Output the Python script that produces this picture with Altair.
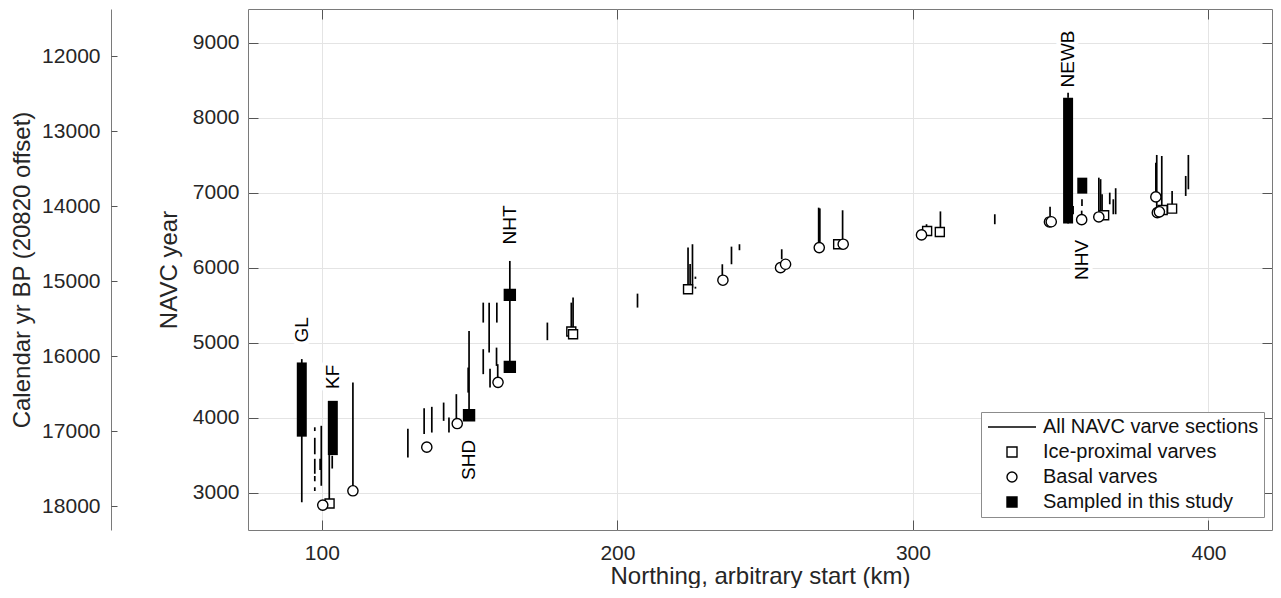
import altair as alt
import pandas as pd

# ---------------- data ----------------
# All NAVC varve sections: northing (km), start / end NAVC year
seg_x = [93.2, 97.6, 97.6, 97.6, 97.6, 97.6, 99.8, 99.4, 102.5, 103.5,
         110.5, 129.1, 134.6, 137.2, 141.2, 143.0, 145.5, 149.8, 149.5, 154.6,
         154.6, 156.6, 156.9, 159.2, 159.1, 159.5, 163.6, 176.3, 184.4, 185.0,
         206.8, 223.9, 225.4, 224.6, 226.4, 226.4, 235.5, 238.6, 241.3, 255.6,
         268.1, 268.5, 276.2, 304.6, 309.3, 327.7, 346.4, 352.5, 352.5, 354.2,
         357.2, 357.1, 362.9, 363.5, 364.0, 366.6, 367.8, 368.6, 382.2, 382.5,
         384.2, 387.7, 392.3, 393.2]
seg_y0 = [2870, 3820, 3510, 3250, 3150, 3020, 3090, 3300, 2860, 3320,
          3023, 3467, 3779, 3800, 3956, 3800, 3956, 4030, 4333, 5267,
          4579, 4867, 4400, 5267, 4689, 4516, 4676, 5032, 5147, 5112,
          5467, 5712, 5733, 5760, 5850, 5720, 5890, 6045, 6232, 6112,
          6267, 6300, 6356, 6499, 6540, 6579, 6645, 6587, 8267, 6712,
          6823, 6680, 6716, 6716, 6716, 6845, 6712, 6712, 6980, 6780,
          6790, 6823, 6956, 7045]
seg_y1 = [4780, 3870, 3730, 3450, 3220, 3070, 3890, 3450, 3500, 3490,
          4467, 3850, 4125, 4143, 4200, 4000, 4312, 5156, 4667, 5533,
          4912, 5533, 4650, 5533, 4933, 4712, 6089, 5267, 5533, 5600,
          5653, 6267, 6312, 6050, 5880, 5745, 6045, 6280, 6312, 6245,
          6800, 6790, 6765, 6579, 6750, 6712, 6813, 8267, 8333, 6823,
          6912, 6760, 7200, 7180, 6979, 7000, 6912, 7059, 7400, 7503,
          7489, 7023, 7223, 7503]

# Ice-proximal varves (hollow squares)
prox_x = [102.6, 184.4, 185.0, 223.9, 274.7, 304.8, 309.1, 364.7, 384.5, 387.7]
prox_y = [2853, 5147, 5112, 5712, 6312, 6489, 6476, 6699, 6769, 6787]

# Basal varves (hollow circles)
basal_x = [100.3, 110.5, 135.5, 145.8, 159.6, 235.7, 255.2, 256.9, 268.3, 276.4,
           302.9, 346.2, 346.8, 357.1, 362.9, 382.2, 382.7, 383.4]
basal_y = [2832, 3023, 3605, 3920, 4470, 5832, 6000, 6045, 6267, 6312,
           6436, 6609, 6612, 6640, 6676, 6943, 6733, 6745]

# Sampled in this study: single samples and continuous sampled intervals
samp_x = [149.8, 163.6, 163.6]
samp_y = [4030, 5636, 4676]
bar_x = [93.2, 103.7, 352.5, 357.3]
bar_y0 = [3745, 3499, 6587, 6987]
bar_y1 = [4735, 4223, 8267, 7200]

# Site labels
label_text = ["GL", "KF", "SHD", "NHT", "NEWB", "NHV"]
label_x = [93.2, 103.7, 149.8, 163.7, 352.5, 357.2]
label_y = [5169, 4543, 3436, 6569, 8783, 6103]

categories = ["All NAVC varve sections", "Ice-proximal varves",
              "Basal varves", "Sampled in this study"]

x_ticks = [100, 200, 300, 400]
y_ticks = [3000, 4000, 5000, 6000, 7000, 8000, 9000]
cal_ticks = [12000, 13000, 14000, 15000, 16000, 17000, 18000]
CAL_OFFSET = 20820

X_DOM = [75, 421.5]
Y_DOM = [2500, 9450]
CAL_DOM = [CAL_OFFSET - Y_DOM[1], CAL_OFFSET - Y_DOM[0]]

# ---------------- tables ----------------
seg_df = pd.DataFrame({"x": seg_x, "y": seg_y0, "y2": seg_y1})
bar_df = pd.DataFrame({"x": bar_x, "y": bar_y0, "y2": bar_y1})
prox_df = pd.DataFrame({"x": prox_x, "y": prox_y, "cat": categories[1]})
basal_df = pd.DataFrame({"x": basal_x, "y": basal_y, "cat": categories[2]})
samp_df = pd.DataFrame({"x": samp_x, "y": samp_y, "cat": categories[3]})
lab_df = pd.DataFrame({"x": label_x, "y": label_y, "label": label_text})
# one mid-range point used only to instantiate the extra axis scales
anchor_df = pd.DataFrame({"x": [x_ticks[1]], "y": [y_ticks[3]], "c": [cal_ticks[3]]})

FONT = "Liberation Sans"
TXT = "#262626"
BOX = "#7a7a7a"
TICK = "#555555"
W, H = 1024, 521

xs = alt.Scale(domain=X_DOM, nice=False, zero=False)
ys = alt.Scale(domain=Y_DOM, nice=False, zero=False)
cs = alt.Scale(domain=CAL_DOM, nice=False, zero=False, reverse=True)

x_axis = alt.Axis(title="Northing, arbitrary start (km)", values=x_ticks, format="d",
                  ticks=False, domain=False, grid=True, gridColor="#e4e4e4",
                  labelFontSize=21, titleFontSize=24, labelPadding=12, titlePadding=1,
                  labelColor=TXT, titleColor=TXT, titleFontWeight="normal",
                  labelFont=FONT, titleFont=FONT)
y_axis = alt.Axis(title="NAVC year", values=y_ticks, format="d",
                  ticks=False, domain=False, grid=True, gridColor="#e4e4e4",
                  labelFontSize=21, titleFontSize=24, labelPadding=9, titlePadding=11,
                  labelColor=TXT, titleColor=TXT, titleFontWeight="normal",
                  labelFont=FONT, titleFont=FONT)


def XE():
    return alt.X("x:Q", scale=xs, axis=x_axis)


def YE():
    return alt.Y("y:Q", scale=ys, axis=y_axis)


seg = alt.Chart(seg_df).mark_rule(color="black", strokeWidth=1.7).encode(
    x=XE(), y=YE(), y2="y2:Q")
bars = alt.Chart(bar_df).mark_rule(color="black", strokeWidth=10, strokeCap="butt").encode(
    x=XE(), y=YE(), y2="y2:Q")

legend = alt.Legend(title=None, orient="none", legendX=733, legendY=403,
                    direction="vertical", labelFontSize=20, labelFont=FONT,
                    labelColor="#111111", symbolStrokeWidth=1.4, symbolSize=100,
                    symbolOffset=16, labelOffset=21, padding=5, rowPadding=5,
                    strokeColor="#8c8c8c", fillColor="white", labelLimit=500)

line_symbol = "M-4.8,0L4.8,0"
shape_scale = alt.Scale(domain=categories, range=[line_symbol, "square", "circle", "square"])
fill_scale = alt.Scale(domain=categories, range=["black", "white", "white", "black"])
stroke_scale = alt.Scale(domain=categories, range=["black", "black", "black", "black"])


def marker_layer(df, size):
    return alt.Chart(df).mark_point(strokeWidth=1.4, opacity=1, size=size).encode(
        x=XE(), y=YE(),
        shape=alt.Shape("cat:N", scale=shape_scale, legend=legend),
        fill=alt.Fill("cat:N", scale=fill_scale, legend=legend),
        stroke=alt.Stroke("cat:N", scale=stroke_scale, legend=legend),
    )


prox = marker_layer(prox_df, 81)
basal = marker_layer(basal_df, 105)
samp = marker_layer(samp_df, 121)

halo = alt.Chart(lab_df).mark_text(angle=270, fontSize=19, font=FONT, color="white",
                                   stroke="white", strokeWidth=9, strokeJoin="round",
                                   align="center", baseline="middle").encode(
    x=XE(), y=YE(), text="label:N")
txt = alt.Chart(lab_df).mark_text(angle=270, fontSize=19, font=FONT, color="black",
                                  align="center", baseline="middle").encode(
    x=XE(), y=YE(), text="label:N")

main = alt.layer(seg, bars, prox, basal, samp, halo, txt)


def inward(orient, values):
    return alt.Axis(orient=orient, offset=-10, tickSize=10, labels=False, domain=False,
                    grid=False, title=None, values=values, tickColor=TICK)


tickA = alt.Chart(anchor_df).mark_point(opacity=0).encode(
    x=alt.X("x:Q", scale=xs, axis=inward("bottom", x_ticks)),
    y=alt.Y("y:Q", scale=ys, axis=inward("left", y_ticks)))
tickB = alt.Chart(anchor_df).mark_point(opacity=0).encode(
    x=alt.X("x:Q", scale=xs, axis=inward("top", x_ticks)),
    y=alt.Y("y:Q", scale=ys, axis=inward("right", y_ticks)))

cal = alt.Chart(anchor_df).mark_point(opacity=0).encode(
    y=alt.Y("c:Q", scale=cs, axis=alt.Axis(
        orient="left", offset=137, title="Calendar yr BP (20820 offset)",
        values=cal_ticks, format="d", ticks=False, domain=True, domainColor=BOX,
        grid=False, labelFontSize=21, titleFontSize=24, labelPadding=11,
        titlePadding=7, labelColor=TXT, titleColor=TXT, titleFontWeight="normal",
        labelFont=FONT, titleFont=FONT)))
cal_ticks_layer = alt.Chart(anchor_df).mark_point(opacity=0).encode(
    y=alt.Y("c:Q", scale=cs, axis=alt.Axis(
        orient="left", offset=131, tickSize=6, labels=False, domain=False,
        grid=False, title=None, values=cal_ticks, tickColor=TICK)))

chart = alt.layer(main, tickA, tickB, cal, cal_ticks_layer).resolve_scale(
    x="independent", y="independent"
).properties(
    width=W, height=H, padding={"left": 2, "top": 0, "right": 0, "bottom": 0}
).configure_view(stroke=BOX, strokeWidth=1)

chart.save("out.html", embed_options={"renderer": "svg", "actions": False})
